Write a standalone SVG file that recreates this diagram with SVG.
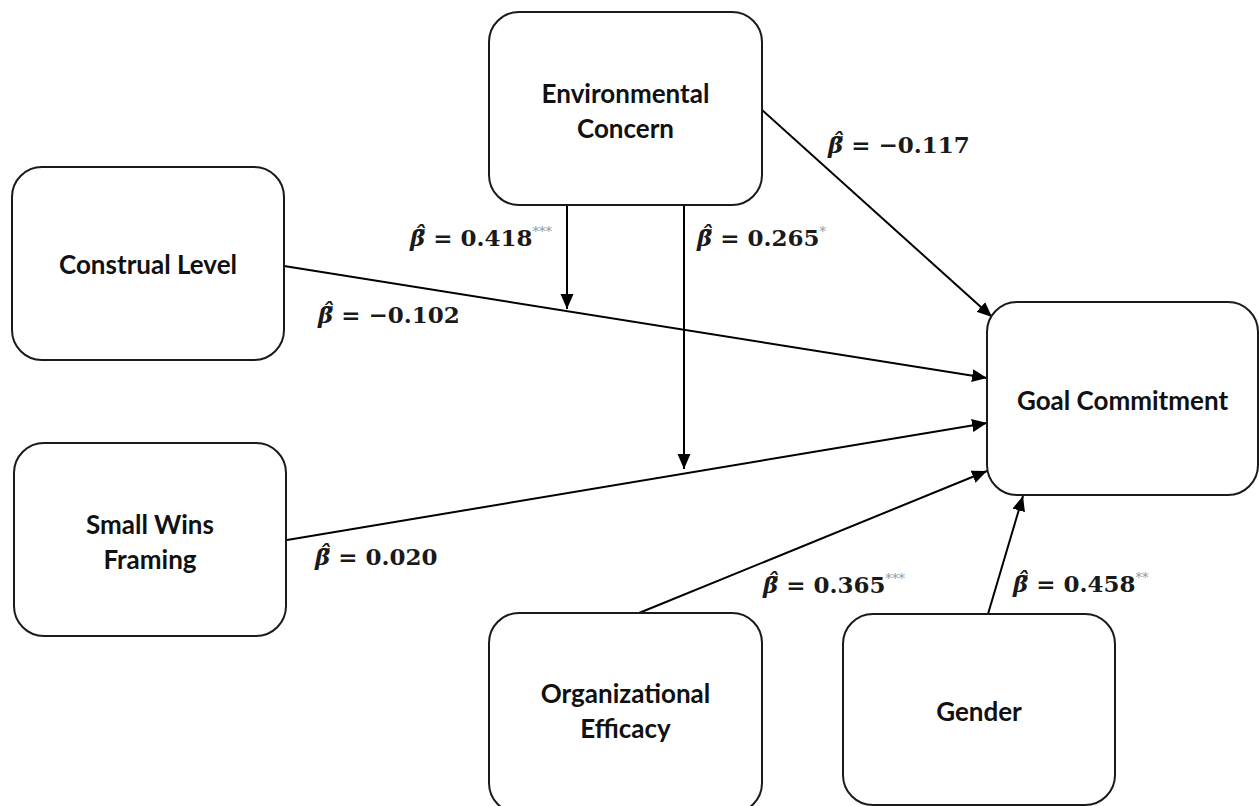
<svg xmlns="http://www.w3.org/2000/svg" width="1259" height="806" viewBox="0 0 1259 806">
<style>
.box{fill:#fff;stroke:#1a1a1a;stroke-width:2}
.nt{font-family:Lato,"Open Sans",sans-serif;font-weight:700;font-size:26px;fill:#111;text-anchor:middle}
.ln{stroke:#000;stroke-width:2;fill:none;marker-end:url(#ah)}
.lb{font-family:"DejaVu Serif","Liberation Serif",serif;font-weight:700;font-size:23px;fill:#1a1a1a}
.b{font-style:italic}
.st{font-size:13px;fill:#8a9aa6;font-weight:400}
</style>
<defs>
<marker id="ah" markerUnits="userSpaceOnUse" markerWidth="16" markerHeight="14" refX="15" refY="6.5" orient="auto">
<path d="M0,0 L15,6.5 L0,13 z" fill="#000"/>
</marker>
</defs>
<rect width="1259" height="806" fill="#fff"/>
<g id="connectors">
<line class="ln" x1="762" y1="110" x2="992" y2="317"/>
<line class="ln" x1="284" y1="266" x2="987" y2="378"/>
<line class="ln" x1="287" y1="540" x2="987" y2="423"/>
<line class="ln" x1="639" y1="613" x2="987" y2="471"/>
<line class="ln" x1="988" y1="614" x2="1023" y2="496"/>
<line class="ln" x1="567" y1="206" x2="567" y2="309"/>
<line class="ln" x1="684" y1="206" x2="684" y2="469"/>
</g>
<g id="env">
<rect class="box" x="489" y="12" width="273" height="193" rx="30"/>
<text class="nt" x="625.5" y="103">Environmental</text>
<text class="nt" x="625.5" y="138">Concern</text>
</g>
<g id="construal">
<rect class="box" x="12" y="167" width="272" height="193" rx="30"/>
<text class="nt" x="148" y="274">Construal Level</text>
</g>
<g id="smallwins">
<rect class="box" x="14" y="443" width="272" height="193" rx="30"/>
<text class="nt" x="150" y="534">Small Wins</text>
<text class="nt" x="150" y="569">Framing</text>
</g>
<g id="goal">
<rect class="box" x="987" y="302" width="271" height="193" rx="30"/>
<text class="nt" x="1122.5" y="410">Goal Commitment</text>
</g>
<g id="orgeff">
<rect class="box" x="489" y="613" width="273" height="200" rx="30"/>
<text class="nt" x="625.5" y="703">Organizational</text>
<text class="nt" x="625.5" y="738">Efficacy</text>
</g>
<g id="gender">
<rect class="box" x="843" y="614" width="272" height="191" rx="30"/>
<text class="nt" x="979" y="721">Gender</text>
</g>
<g id="labels">
<text class="lb" x="410" y="246"><tspan class="b">β̃̂</tspan> = 0.418<tspan class="st" dy="-10">***</tspan></text>
<text class="lb" x="697" y="246"><tspan class="b">β̃̂</tspan> = 0.265<tspan class="st" dy="-10">*</tspan></text>
<text class="lb" x="318" y="323"><tspan class="b">β̃̂</tspan> = −0.102</text>
<text class="lb" x="828" y="153"><tspan class="b">β̃̂</tspan> = −0.117</text>
<text class="lb" x="315" y="565"><tspan class="b">β̃̂</tspan> = 0.020</text>
<text class="lb" x="763" y="593"><tspan class="b">β̃̂</tspan> = 0.365<tspan class="st" dy="-10">***</tspan></text>
<text class="lb" x="1013" y="592"><tspan class="b">β̃̂</tspan> = 0.458<tspan class="st" dy="-10">**</tspan></text>
</g>
</svg>
